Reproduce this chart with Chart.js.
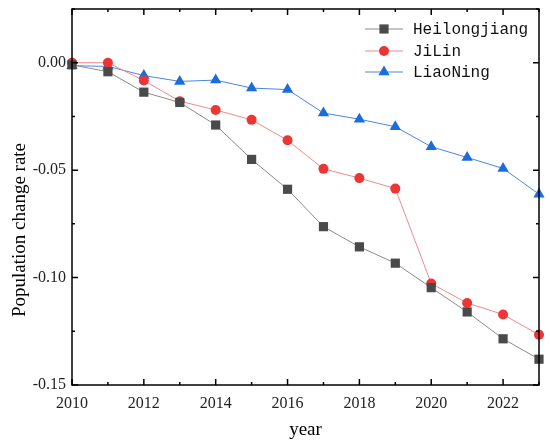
<!DOCTYPE html>
<html>
<head>
<meta charset="utf-8">
<script src="https://cdn.jsdelivr.net/npm/chart.js@4.4.0/dist/chart.umd.min.js"></script>
<style>
  html, body { margin: 0; padding: 0; background: #fff; }
</style>
</head>
<body>
<canvas id="myChart" width="550" height="447"></canvas>
<script>
// Data
const years = [2010, 2011, 2012, 2013, 2014, 2015, 2016, 2017, 2018, 2019, 2020, 2021, 2022, 2023];
const heilongjiang = [-0.0010, -0.0042, -0.0137, -0.0185, -0.0290, -0.0450, -0.0589, -0.0763, -0.0857, -0.0933, -0.1047, -0.1160, -0.1285, -0.1380];
const jilin = [0.0000, 0.0000, -0.0083, -0.0179, -0.0220, -0.0266, -0.0361, -0.0494, -0.0537, -0.0586, -0.1028, -0.1118, -0.1172, -0.1266];
const liaoning = [-0.0014, -0.0017, -0.0060, -0.0087, -0.0081, -0.0118, -0.0125, -0.0234, -0.0263, -0.0298, -0.0391, -0.0441, -0.0492, -0.0612];
const xTicks = [2010, 2012, 2014, 2016, 2018, 2020, 2022];
const yTicks = [-0.15, -0.10, -0.05, 0.00];
const xMinor = [2011, 2013, 2015, 2017, 2019, 2021, 2023];
const yMinor = [-0.125, -0.075, -0.025, 0.025];
const yTitle = "Population change rate";

function pts(values) {
  return years.map((y, i) => ({ x: y, y: values[i] }));
}

// Inward tick marks on all four sides of the frame, plus the y title
const frameTicks = {
  id: "frameTicks",
  afterDraw(chart) {
    const { ctx, chartArea: a, scales } = chart;
    const xs = scales.x, ys = scales.y;
    ctx.save();
    ctx.strokeStyle = "#000";
    ctx.lineWidth = 1.5;
    ctx.strokeRect(a.left, a.top, a.right - a.left, a.bottom - a.top);
    ctx.beginPath();
    const drawX = (v, len) => {
      const px = xs.getPixelForValue(v);
      ctx.moveTo(px, a.bottom); ctx.lineTo(px, a.bottom - len);
      ctx.moveTo(px, a.top); ctx.lineTo(px, a.top + len);
    };
    const drawY = (v, len) => {
      const py = ys.getPixelForValue(v);
      ctx.moveTo(a.left, py); ctx.lineTo(a.left + len, py);
      ctx.moveTo(a.right, py); ctx.lineTo(a.right - len, py);
    };
    xTicks.forEach(v => drawX(v, 6));
    xMinor.forEach(v => drawX(v, 3));
    yTicks.forEach(v => drawY(v, 6));
    yMinor.forEach(v => drawY(v, 3));
    ctx.stroke();

    // y axis title, placed as in the original figure
    ctx.translate(20, 230);
    ctx.rotate(-Math.PI / 2);
    ctx.fillStyle = "#000";
    ctx.font = "19px 'Liberation Serif'";
    ctx.textAlign = "center";
    ctx.textBaseline = "middle";
    ctx.fillText(yTitle, 0, 0);
    ctx.restore();
  }
};

// Legend drawn inside the plot, top right
const innerLegend = {
  id: "innerLegend",
  afterDraw(chart) {
    const ctx = chart.ctx;
    const x0 = 365, x1 = 403, tx = 413;
    const rows = [29, 51, 72];
    ctx.save();
    chart.data.datasets.forEach((ds, i) => {
      const y = rows[i];
      ctx.strokeStyle = ds.borderColor;
      ctx.lineWidth = 1;
      ctx.beginPath();
      ctx.moveTo(x0, y); ctx.lineTo(x1, y);
      ctx.stroke();
      ctx.fillStyle = ds.pointBackgroundColor;
      ctx.strokeStyle = ds.pointBackgroundColor;
      Chart.helpers.drawPoint(ctx, {
        pointStyle: ds.pointStyle, radius: ds.pointRadius, borderWidth: 0, rotation: 0
      }, (x0 + x1) / 2, y);
      ctx.fillStyle = "#111";
      ctx.font = "16px 'Liberation Mono'";
      ctx.textBaseline = "middle";
      ctx.fillText(ds.label, tx, y + 1);
    });
    ctx.restore();
  }
};

const ctx = document.getElementById("myChart");
const myChart = new Chart(ctx, {
  type: "line",
  data: {
    datasets: [
      {
        label: "Heilongjiang",
        data: pts(heilongjiang),
        borderColor: "#8a8a8a",
        borderWidth: 1,
        pointStyle: "rect",
        pointRadius: 6.5,
        pointBackgroundColor: "#4a4a4a",
        pointBorderWidth: 0,
      },
      {
        label: "JiLin",
        data: pts(jilin),
        borderColor: "#f08a8a",
        borderWidth: 1,
        pointStyle: "circle",
        pointRadius: 5,
        pointBackgroundColor: "#ee3535",
        pointBorderWidth: 0,
      },
      {
        label: "LiaoNing",
        data: pts(liaoning),
        borderColor: "#4a86e0",
        borderWidth: 1,
        pointStyle: "triangle",
        pointRadius: 6.5,
        pointBackgroundColor: "#1c6cdc",
        pointBorderWidth: 0,
      },
    ],
  },
  options: {
    responsive: false,
    animation: false,
    clip: false,
    layout: { padding: { top: 9, right: 11, left: 0, bottom: 0 } },
    plugins: {
      legend: { display: false },
      tooltip: { enabled: false },
    },
    scales: {
      x: {
        type: "linear",
        min: 2010,
        max: 2023,
        grid: { display: false, drawTicks: false },
        border: { display: false },
        afterBuildTicks(scale) {
          scale.ticks = xTicks.map(v => ({ value: v }));
        },
        afterFit(scale) {
          scale.height = 62;
          scale.paddingLeft = 0;
          scale.paddingRight = 0;
        },
        ticks: {
          padding: 9,
          maxRotation: 0,
          color: "#222",
          font: { family: "'Liberation Serif'", size: 16 },
          callback: v => String(v),
        },
        title: {
          display: true,
          text: "year",
          color: "#000",
          font: { family: "'Liberation Serif'", size: 19 },
          padding: { top: 0, bottom: 6 },
        },
      },
      y: {
        min: -0.15,
        max: 0.025,
        grid: { display: false, drawTicks: false },
        border: { display: false },
        afterBuildTicks(scale) {
          scale.ticks = yTicks.map(v => ({ value: v }));
        },
        afterFit(scale) {
          scale.width = 72;
          scale.paddingTop = 0;
          scale.paddingBottom = 0;
        },
        ticks: {
          padding: 6,
          color: "#222",
          font: { family: "'Liberation Serif'", size: 16 },
          callback: v => v.toFixed(2),
        },
      },
    },
  },
  plugins: [frameTicks, innerLegend],
});
</script>
</body>
</html>
